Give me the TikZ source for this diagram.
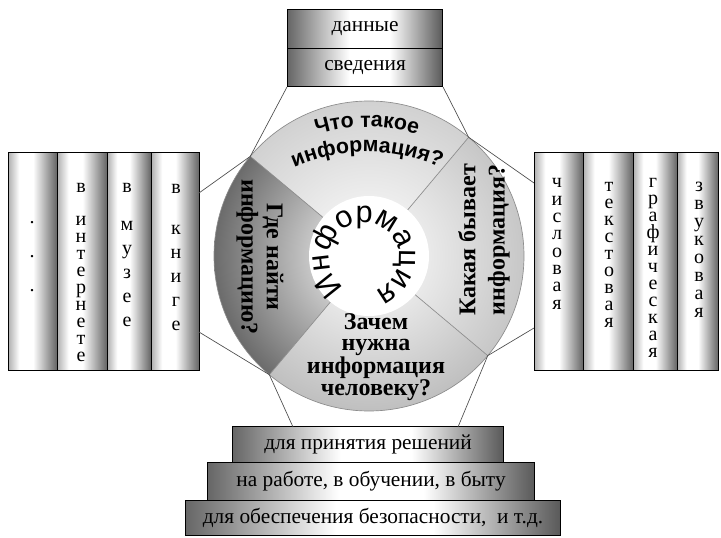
\documentclass[tikz,border=0pt]{standalone}
\usepackage{fontspec}
\setmainfont{Liberation Serif}
\setsansfont{Liberation Sans}
\usetikzlibrary{decorations.text}

\pgfdeclarehorizontalshading{barshade}{100bp}{color(0bp)=(black!60); color(25bp)=(black!60); color(45bp)=(white); color(58bp)=(white); color(75bp)=(black!65); color(100bp)=(black!65)}
\pgfdeclarehorizontalshading{colshade}{100bp}{color(0bp)=(black!30); color(25bp)=(black!30); color(36bp)=(white); color(50bp)=(white); color(75bp)=(black!62); color(100bp)=(black!62)}

\def\px{0.75pt}
\def\R{155}

\tikzset{
  box/.style={draw=black, line width=0.8pt, inner sep=0pt, anchor=south west,
    shade, shading=barshade, font=\fontsize{16}{16}\selectfont},
  column/.style={box, shading=colshade},
  letters/.style={align=center, inner sep=0pt, font=\fontsize{15}{#1}\selectfont},
  ask/.style={align=center, inner sep=0pt, font=\bfseries\fontsize{18}{#1}\selectfont},
  rim/.style={draw=black!45, line width=0.5pt},
  link/.style={draw=black!70, line width=0.5pt}
}

\begin{document}
\begin{tikzpicture}[x=0.75pt,y=0.75pt]
 \useasboundingbox (0,0) rectangle (721,537);

 % circle split in four
 \coordinate (c) at (369,281);
 \foreach \a/\b/\tone in {50/140/18, 140/230/58, 230/320/25, 320/410/22} {
   \begin{scope}
     \clip (c) -- ++(\a:\R) arc[start angle=\a, end angle=\b, radius=\R] -- cycle;
     \shade[inner color=white, outer color=black!\tone] (c) circle (\R);
   \end{scope}
 }
 \draw[rim] (c) circle (\R);
 \foreach \a/\n in {50/tr, 140/tl, 230/bl, 320/br} {
   \path (c) ++(\a:\R) coordinate (\n);
   \draw[rim] (c) ++(\a:60) -- (\n);
 }
 \fill[white] (c) circle (60);

 % boxes
 \node[box, minimum width=155*\px, minimum height=39*\px] (dannye) at (287,488) {данные};
 \node[box, minimum width=155*\px, minimum height=38*\px] (svedeniya) at (287,450) {сведения};

 \node[column, minimum width=49*\px, minimum height=218*\px] (l1) at (8,166) {};
 \node[column, minimum width=50*\px, minimum height=218*\px] (l2) at (57,166) {};
 \node[column, minimum width=44*\px, minimum height=218*\px] (l3) at (107,166) {};
 \node[column, minimum width=48*\px, minimum height=218*\px] (l4) at (151,166) {};

 \node[column, minimum width=49*\px, minimum height=218*\px] (r1) at (534,166) {};
 \node[column, minimum width=50*\px, minimum height=218*\px] (r2) at (583,166) {};
 \node[column, minimum width=44*\px, minimum height=218*\px] (r3) at (633,166) {};
 \node[column, minimum width=41*\px, minimum height=218*\px] (r4) at (677,166) {};

 \node[box, minimum width=271*\px, minimum height=36*\px] (resh) at (232,74) {для принятия решений};
 \node[box, minimum width=327*\px, minimum height=38*\px] (rab) at (207,36) {на работе, в обучении, в быту};
 \node[box, minimum width=375*\px, minimum height=35*\px] (bez) at (185,1) {для обеспечения безопасности,\ \ и т.д.};

 % letters in the columns
 \node[letters=25.5pt] (l1t) at (32,280) {.\\.\\.};
 \node[letters=12.75pt] (l2t) at (81,264.5) {в\\[12pt]и\\н\\т\\е\\р\\н\\е\\т\\е};
 \node[letters=18pt] (l3t) at (127,282) {в\\[10.5pt]м\\у\\з\\е\\е};
 \node[letters=18pt] (l4t) at (176,279) {в\\[12.75pt]к\\н\\и\\г\\е};

 \node[letters=13pt] (r1t) at (557,293) {ч\\и\\с\\л\\о\\в\\а\\я};
 \node[letters=12.75pt] (r2t) at (609,282.5) {т\\е\\к\\с\\т\\о\\в\\а\\я};
 \node[letters=12.75pt] (r3t) at (653,269) {г\\р\\а\\ф\\и\\ч\\е\\с\\к\\а\\я};
 \node[letters=13.5pt] (r4t) at (699,287) {з\\в\\у\\к\\о\\в\\а\\я};

 % connectors
 \coordinate (lhi) at (199,344);
 \coordinate (llo) at (199,205);
 \coordinate (rhi) at (534,354);
 \coordinate (rlo) at (534,209);
 \coordinate (bhl) at (293,110);
 \coordinate (bhr) at (458,110);
 \draw[link] (svedeniya.south west) -- (tl) -- (lhi);
 \draw[link] (svedeniya.south east) -- (tr) -- (rhi);
 \draw[link] (llo) -- (bl) -- (bhl);
 \draw[link] (rlo) -- (br) -- (bhr);

 % texts in the circle
 \coordinate (cw) at (364,279);
 \path[decorate, decoration={text along path, text align=center,
   text={|\sffamily\fontsize{23}{23}\selectfont|Информация}}]
   ([shift={(243:35)}]cw) arc[start angle=243, end angle=-77, radius=35];
 \coordinate (ct1) at (367,230);
 \coordinate (ct2) at (367,205);
 \path[decorate, decoration={text along path, text align=center,
   text={|\sffamily\bfseries\fontsize{16}{16}\selectfont|Что такое}}]
   ([shift={(115:180)}]ct1) arc[start angle=115, end angle=65, radius=180];
 \path[decorate, decoration={text along path, text align=center,
   text={|\sffamily\bfseries\fontsize{16}{16}\selectfont|информация?}}]
   ([shift={(120:180)}]ct2) arc[start angle=120, end angle=60, radius=180];
 \node[ask=19pt, rotate=-90] (gde) at (260,280) {Где найти\\информацию?};
 \node[ask=22pt, rotate=90] (kakaya) at (484,297) {Какая бывает\\информация?};
 \node[ask=16pt] (zachem) at (376,180) {Зачем\\нужна\\информация\\человеку?};
\end{tikzpicture}
\end{document}
